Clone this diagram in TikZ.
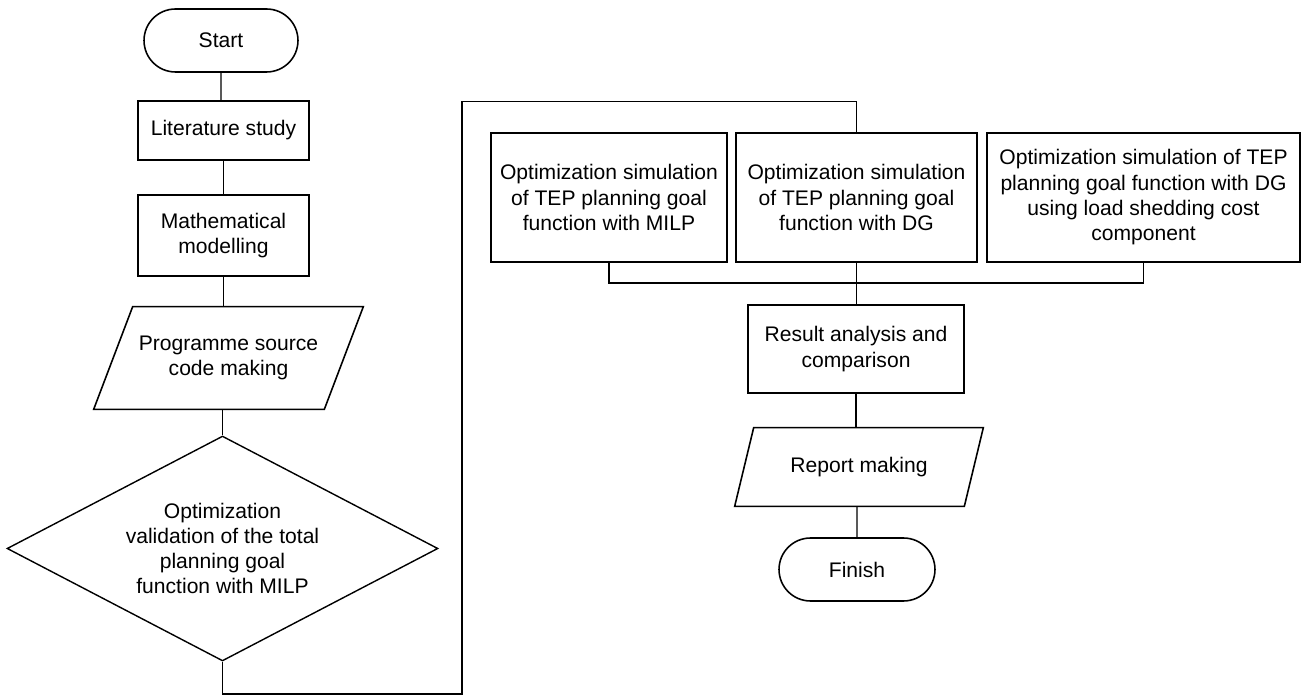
\documentclass[tikz,border=0pt]{standalone}
\usepackage{fontspec}
\setmainfont{Liberation Sans}
\usetikzlibrary{calc, shapes.geometric, shapes.misc}
\tikzstyle{terminal}=[rounded rectangle, draw, line width=0.9pt, minimum width=3.08cm, minimum height=1.26cm, inner sep=0pt]
\tikzstyle{process}=[rectangle, draw, line width=0.9pt, align=center, inner sep=0pt]
\tikzstyle{io}=[rectangle, align=center, inner sep=0pt]
\tikzstyle{decision}=[diamond, draw, line width=0.8pt, align=center, inner sep=0pt, shape aspect=1.92]
\tikzstyle{link}=[line width=0.6pt]
\newcommand{\slanted}[2]{\draw [line width=0.9pt] ($(#1.south west)+(-#2,0)$) -- ($(#1.south east)+(-#2,0)$) -- ($(#1.north east)+(#2,0)$) -- ($(#1.north west)+(#2,0)$) -- cycle;}

\begin{document}
\begin{tikzpicture}[x=0.02cm, y=-0.02cm, font=\fontsize{12}{14.4}\selectfont]

\useasboundingbox (0, 0) rectangle (1302, 695);

\node [terminal] (start) at (221, 40.5) {Start};
\node [process, minimum width=3.42cm, minimum height=1.18cm] (lit) at (223.5, 130.5) {Literature study};
\node [process, minimum width=3.42cm, minimum height=1.62cm] (math) at (223.5, 235.5) {Mathematical\\modelling};
\node [io, minimum width=4.6cm, minimum height=2.04cm] (prog) at (228.5, 358) {Programme source\\code making};
\node [decision, minimum width=8.62cm, minimum height=4.5cm] (valid) at (222.5, 548.5) {Optimization\\validation of the total\\planning goal\\function with MILP};

\node [process, minimum width=4.72cm, minimum height=2.58cm] (milp) at (609, 197.5) {Optimization simulation\\of TEP planning goal\\function with MILP};
\node [process, minimum width=4.82cm, minimum height=2.58cm] (dg) at (856.5, 197.5) {Optimization simulation\\of TEP planning goal\\function with DG};
\node [process, minimum width=6.26cm, minimum height=2.58cm] (shed) at (1143.5, 197.5) {Optimization simulation of TEP\\planning goal function with DG\\using load shedding cost\\component};

\node [process, minimum width=4.32cm, minimum height=1.76cm] (result) at (856, 349) {Result analysis and\\comparison};
\node [io, minimum width=4.58cm, minimum height=1.56cm] (report) at (859, 467) {Report making};
\node [terminal, minimum width=3.12cm] (finish) at (857, 569.5) {Finish};

\slanted{prog}{19.5}
\slanted{report}{9.5}

\coordinate (loopB) at (462, 694);
\coordinate (loopT) at (462, 101.5);
\coordinate (join) at (856.5, 283);

\draw [link] (start) -- (start |- lit.north);
\draw [link] (lit) -- (math);
\draw [link] (math) -- (math |- prog.north);
\draw [link] (valid) -- (valid |- prog.south);
\draw [link] (valid.south) |- (loopB) -- (loopT) -| (dg.north);

\draw [link] (milp) |- (join) -| (shed);
\draw [link] (dg) -- (dg |- result.north);
\draw [link] (result) -- (result |- report.north);
\draw [link] (finish) -- (finish |- report.south);

\end{tikzpicture}
\end{document}
